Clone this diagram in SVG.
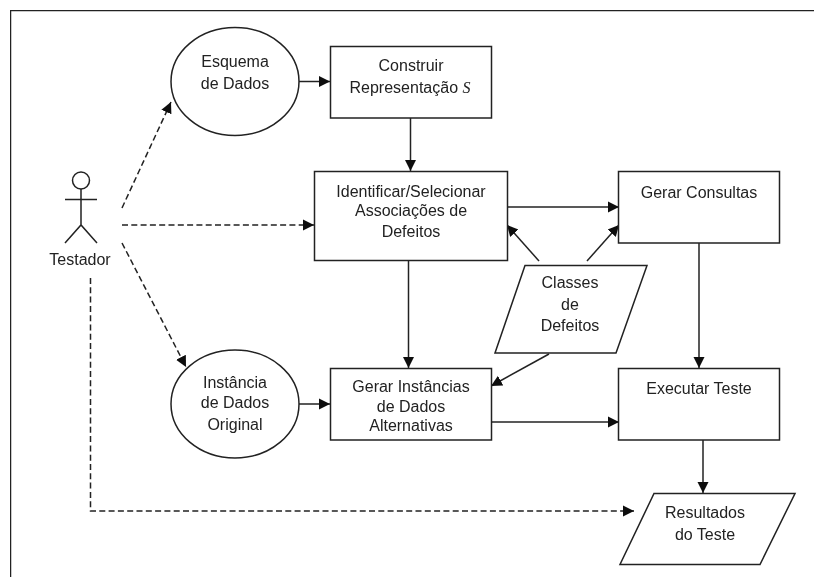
<svg xmlns="http://www.w3.org/2000/svg" width="814" height="577" viewBox="0 0 814 577">
<style>
.s{fill:#fff;stroke:#222;stroke-width:1.5}
.o{fill:none;stroke:#222;stroke-width:1.5}
.c{fill:none;stroke:#222;stroke-width:1.5;marker-end:url(#a)}
.d{stroke-dasharray:6 3.3}
text{font-family:"Liberation Sans",Arial,sans-serif;font-size:16px;fill:#222;text-anchor:middle}
</style>
<defs>
<marker id="a" markerUnits="userSpaceOnUse" markerWidth="13" markerHeight="13" refX="11" refY="6.500" orient="auto"><path d="M0 1 L11 6.500 L0 12Z" fill="#111"/></marker>
<filter id="soft" x="0" y="0" width="100%" height="100%"><feGaussianBlur stdDeviation="0.35"/></filter>
</defs>
<rect width="814" height="577" fill="#fff"/>
<g filter="url(#soft)">
<path class="o" d="M10.500 577V10.500H814"/>
<g id="connectors">
<path class="c d" d="M122 208L171 102"/>
<path class="c d" d="M122 225H314"/>
<path class="c d" d="M122 243L186 367"/>
<path class="c d" d="M90.500 278V511H634"/>
<path class="c" d="M298 81.500H330"/>
<path class="c" d="M410.500 118V171"/>
<path class="c" d="M507 207H619"/>
<path class="c" d="M539 261L507 225"/>
<path class="c" d="M587 261L619 225"/>
<path class="c" d="M408.500 260V368"/>
<path class="c" d="M549 354L491 386"/>
<path class="c" d="M699 243V368"/>
<path class="c" d="M298 404H330"/>
<path class="c" d="M491 422H619"/>
<path class="c" d="M703 440V493"/>
</g>
<g id="testador"><circle class="s" cx="81" cy="180.500" r="8.500"/><path class="o" d="M65 199.500H97M81 189V225M65 243L81 225L97 243"/><text x="80" y="265">Testador</text></g>
<g id="esquema"><ellipse class="s" cx="235" cy="81.500" rx="64" ry="54"/><text x="235" y="67">Esquema</text><text x="235" y="89">de Dados</text></g>
<g id="construir"><rect class="s" x="330.500" y="46.500" width="161" height="71.500"/><text x="411" y="71">Construir</text><text x="410" y="93">Representação  <tspan font-family="'Liberation Serif',serif" font-style="italic">S</tspan></text></g>
<g id="identificar"><rect class="s" x="314.500" y="171.500" width="193" height="89"/><text x="411" y="197">Identificar/Selecionar</text><text x="411" y="216">Associações de</text><text x="411" y="237">Defeitos</text></g>
<g id="consultas"><rect class="s" x="618.500" y="171.500" width="161" height="71.500"/><text x="699" y="198">Gerar Consultas</text></g>
<g id="classes"><path class="s" d="M525 265.500H647L616 353H495Z"/><text x="570" y="288">Classes</text><text x="570" y="310">de</text><text x="570" y="331">Defeitos</text></g>
<g id="instancia"><ellipse class="s" cx="235" cy="404" rx="64" ry="54"/><text x="235" y="388">Instância</text><text x="235" y="408">de Dados</text><text x="235" y="430">Original</text></g>
<g id="instancias"><rect class="s" x="330.500" y="368.500" width="161" height="71.500"/><text x="411" y="392">Gerar Instâncias</text><text x="411" y="412">de Dados</text><text x="411" y="431">Alternativas</text></g>
<g id="executar"><rect class="s" x="618.500" y="368.500" width="161" height="71.500"/><text x="699" y="394">Executar Teste</text></g>
<g id="resultados"><path class="s" d="M654 493.500H795L760 564.500H620Z"/><text x="705" y="518">Resultados</text><text x="705" y="540">do Teste</text></g>
</g>
</svg>
